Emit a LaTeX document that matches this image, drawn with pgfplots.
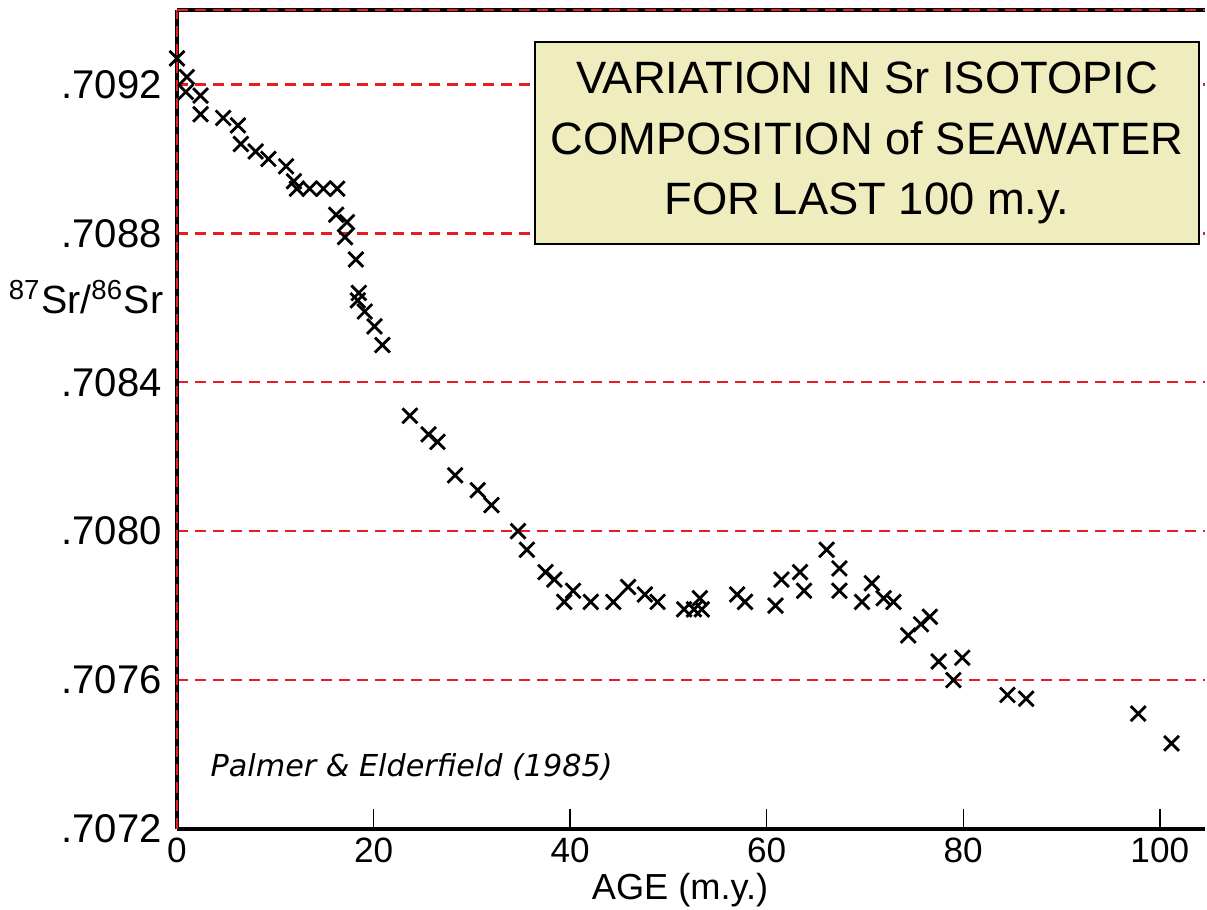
\documentclass[border=0pt]{standalone}
\usepackage{pgfplots}
\pgfplotsset{compat=1.18}
\usepackage{fontspec}
\setmainfont{Liberation Sans}
\newfontfamily\comic{DejaVu Sans}
\definecolor{gridred}{RGB}{228,30,36}
\definecolor{boxfill}{RGB}{239,237,189}

\pgfplotstableread{
age sr
0.0 0.70927
1.0 0.70922
0.9 0.70918
2.4 0.70917
2.4 0.70912
4.7 0.70911
6.2 0.70909
6.5 0.70904
8.0 0.70902
9.3 0.70900
11.1 0.70898
11.9 0.70894
12.2 0.70892
13.5 0.70892
14.9 0.70892
16.3 0.70892
16.2 0.70885
17.3 0.70883
17.1 0.70879
18.2 0.70873
18.5 0.70864
18.4 0.70862
19.1 0.70859
20.1 0.70855
20.9 0.70850
23.7 0.70831
25.6 0.70826
26.5 0.70824
28.3 0.70815
30.6 0.70811
32.0 0.70807
34.7 0.70800
35.6 0.70795
37.5 0.70789
38.4 0.70787
40.3 0.70784
39.4 0.70781
42.1 0.70781
44.4 0.70781
45.9 0.70785
47.6 0.70783
48.9 0.70781
51.6 0.70779
52.6 0.70779
53.2 0.70782
53.4 0.70779
57.0 0.70783
57.8 0.70781
60.9 0.70780
61.5 0.70787
63.4 0.70789
63.8 0.70784
66.1 0.70795
67.4 0.70790
67.4 0.70784
69.7 0.70781
70.7 0.70786
71.9 0.70782
72.9 0.70781
74.4 0.70772
75.7 0.70775
76.6 0.70777
77.5 0.70765
79.9 0.70766
79.0 0.70760
84.5 0.70756
86.4 0.70755
97.8 0.70751
101.2 0.70743
}\srdata

\begin{document}
\begin{tikzpicture}
\useasboundingbox (0,0) rectangle (120.7mm,91mm);
\begin{axis}[
  at={(17.7mm,8.1mm)}, anchor=south west,
  scale only axis,
  width=102.8mm, height=81.9mm,
  xmin=0, xmax=104.6, ymin=0.7072, ymax=0.7094,
  axis x line*=bottom, axis y line*=left,
  axis line style={line width=1.3pt, -},
  xtick={0,20,40,60,80,100},
  ytick={0.7072,0.7076,0.7080,0.7084,0.7088,0.7092},
  yticklabels={.7072,.7076,.7080,.7084,.7088,.7092},
  xticklabels={0,20,40,60,80,100},
  ymajorgrids,
  grid style={gridred, line width=0.7pt, dash pattern=on 1.1mm off 0.7mm},
  tick align=inside,
  xtick style={draw=black, line width=0.4pt, /pgfplots/major tick length=2mm},
  ytick style={/pgfplots/major tick length=0pt},
  yticklabel style={font=\fontsize{11.4}{13}\selectfont, xshift=-0.3mm},
  xticklabel style={font=\fontsize{10}{12}\selectfont, yshift=0.3mm},
  clip=false,
]
\addplot[only marks, mark=x, mark size=3pt, mark options={line width=0.8pt, black}] table[x=age, y=sr] {\srdata};
\draw[black, line width=0.4pt] (rel axis cs:0.19120,0) -- (rel axis cs:0.19120,0.0244);
\draw[black, line width=0.4pt] (rel axis cs:0.38241,0) -- (rel axis cs:0.38241,0.0244);
\draw[black, line width=0.4pt] (rel axis cs:0.57361,0) -- (rel axis cs:0.57361,0.0244);
\draw[black, line width=0.4pt] (rel axis cs:0.76482,0) -- (rel axis cs:0.76482,0.0244);
\draw[black, line width=0.4pt] (rel axis cs:0.95602,0) -- (rel axis cs:0.95602,0.0244);
\draw[gridred, line width=0.7pt, dash pattern=on 1.1mm off 0.7mm] (rel axis cs:0,0) -- (rel axis cs:0,1);
\draw[black, line width=1pt] (rel axis cs:0,1) -- (rel axis cs:1,1);
\draw[gridred, line width=0.7pt, dash pattern=on 1.1mm off 0.7mm] (rel axis cs:0,1) -- (rel axis cs:1,1);
\end{axis}
\begin{scope}[x=0.1mm,y=0.1mm]
\draw[fill=boxfill, line width=0.6pt] (535,666) rectangle (1199,868);
\node[align=center, font=\fontsize{12.9}{17.2}\selectfont] at (867,767) {VARIATION IN Sr ISOTOPIC\\COMPOSITION of SEAWATER\\FOR LAST 100 m.y.};
\node[font=\fontsize{11.2}{13}\selectfont] at (86,613) {\textsuperscript{87}Sr/\textsuperscript{86}Sr};
\node[font=\fontsize{10.3}{12}\selectfont, inner sep=0pt] at (680,20) {AGE (m.y.)};
\node[anchor=west, font=\comic\itshape\fontsize{8.6}{10}\selectfont, inner sep=0pt] at (210,143) {Palmer \& Elderfield (1985)};
\end{scope}
\end{tikzpicture}
\end{document}
